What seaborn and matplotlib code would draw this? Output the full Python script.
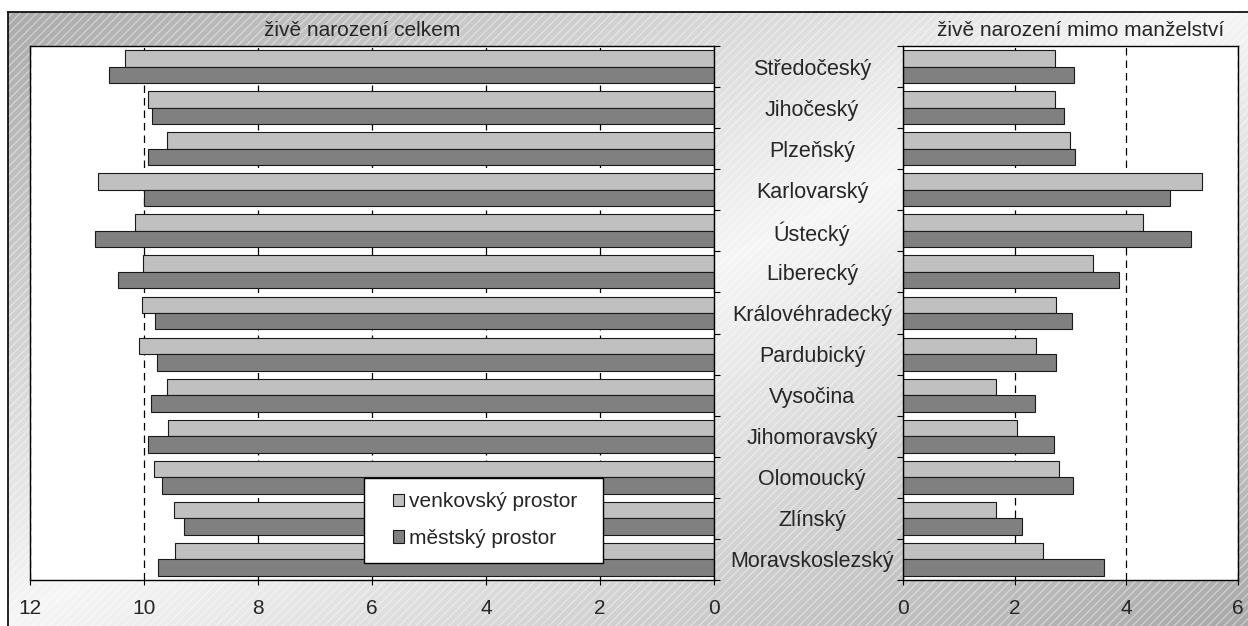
import numpy as np
import pandas as pd
import seaborn as sns
import matplotlib
matplotlib.use('Agg')
import matplotlib.pyplot as plt
from matplotlib.patches import Patch, Rectangle

# Data
kraje = ['Středočeský', 'Jihočeský', 'Plzeňský', 'Karlovarský', 'Ústecký',
         'Liberecký', 'Královéhradecký', 'Pardubický', 'Vysočina',
         'Jihomoravský', 'Olomoucký', 'Zlínský', 'Moravskoslezský']
venkov_celkem = [10.33, 9.93, 9.60, 10.81, 10.16, 10.02, 10.04, 10.09, 9.60, 9.58, 9.82, 9.47, 9.46]
mesto_celkem = [10.61, 9.86, 9.93, 10.00, 10.86, 10.46, 9.81, 9.77, 9.88, 9.93, 9.68, 9.30, 9.75]
venkov_mimo = [2.73, 2.72, 2.99, 5.36, 4.30, 3.40, 2.74, 2.38, 1.67, 2.04, 2.79, 1.67, 2.51]
mesto_mimo = [3.07, 2.89, 3.08, 4.78, 5.16, 3.86, 3.02, 2.74, 2.36, 2.70, 3.05, 2.14, 3.60]
prostory = ['venkovský prostor', 'městský prostor']
barvy = ['#c0c0c0', '#808080']

sns.set_theme(style='white')
plt.rcParams['font.family'] = ['Liberation Sans', 'DejaVu Sans']

W, H = 1248, 626
fig = plt.figure(figsize=(W / 100, H / 100), dpi=100)
fig.patch.set_facecolor('white')

# background: diagonal grey gradient with fine white hatching
bg = fig.add_axes([8 / W, 0, 1 - 8 / W, 1 - 12 / H], zorder=-5)
X, Y = np.meshgrid(np.linspace(8, W, 400) / W, np.linspace(12, H, 200) / H)
t = (X + Y) / 2
shade = 245 - 77 * np.abs(2 * t - 1)
bg.imshow(shade, cmap='gray', vmin=0, vmax=255, extent=[0, 1, 0, 1],
          aspect='auto', origin='upper')
bg.add_patch(Rectangle((0, 0), 1, 1, transform=bg.transAxes, facecolor='none',
                       edgecolor=(1, 1, 1, 0.4), hatch='////', lw=0))
bg.set_xlim(0, 1)
bg.set_ylim(0, 1)
bg.set_xticks([])
bg.set_yticks([])
for s in ['right', 'bottom']:
    bg.spines[s].set_visible(False)
for s in ['left', 'top']:
    bg.spines[s].set_color('black')
    bg.spines[s].set_linewidth(1.2)


def long_df(venkov, mesto):
    return pd.DataFrame({
        'kraj': kraje * 2,
        'hodnota': venkov + mesto,
        'prostor': [prostory[0]] * len(kraje) + [prostory[1]] * len(kraje),
    })


def style(ax, xmax):
    ax.set_facecolor('white')
    ax.set_axisbelow(True)
    ax.grid(axis='x', color='black', lw=0.9, linestyle=(0, (6, 4)))
    ax.grid(axis='y', visible=False)
    ax.set_xticks(range(0, xmax + 1, 2))
    ax.set_ylim(12.5, -0.5)
    ax.set_xlabel('')
    ax.set_ylabel('')
    ax.tick_params(axis='x', which='major', direction='out', length=3.6,
                   width=0.8, color='black', labelsize=15, pad=10, bottom=True)
    for s in ax.spines.values():
        s.set_color('black')
        s.set_linewidth(1)


axL = fig.add_axes([30 / W, 1 - 580 / H, 684 / W, 534 / H])
axR = fig.add_axes([903 / W, 1 - 580 / H, 335 / W, 534 / H])

sns.barplot(data=long_df(venkov_celkem, mesto_celkem), x='hodnota', y='kraj',
            hue='prostor', hue_order=prostory, palette=barvy, orient='h',
            saturation=1, width=0.8, edgecolor='#1a1a1a', linewidth=0.8,
            legend=False, ax=axL)
sns.barplot(data=long_df(venkov_mimo, mesto_mimo), x='hodnota', y='kraj',
            hue='prostor', hue_order=prostory, palette=barvy, orient='h',
            saturation=1, width=0.8, edgecolor='#1a1a1a', linewidth=0.8,
            legend=False, ax=axR)

style(axL, 12)
axL.set_xlim(12, 0)
axL.set_yticks([])
axL.set_yticks(np.arange(-0.5, 13), minor=True)
axL.tick_params(axis='y', which='minor', left=False, right=True,
                direction='out', length=4.3, width=0.8, color='black')
axL.set_title('živě narození celkem', fontsize=15, pad=7, x=0.485)

style(axR, 6)
axR.set_xlim(0, 6)
axR.set_yticks(range(len(kraje)))
axR.set_yticklabels(kraje, ha='center', fontsize=15.5)
axR.tick_params(axis='y', which='major', length=0, pad=65.5)
axR.set_yticks(np.arange(-0.5, 13), minor=True)
axR.tick_params(axis='y', which='minor', left=True, right=False,
                direction='out', length=4.3, width=0.8, color='black')
axR.set_title('živě narození mimo manželství', fontsize=15, pad=7, x=0.531)

# legend box inside the left panel
fig.add_artist(Rectangle((364 / W, 1 - 563 / H), (603 - 364) / W, (563 - 478) / H,
                         transform=fig.transFigure, facecolor='white',
                         edgecolor='black', lw=1, zorder=3))
handles = [Patch(facecolor=c, edgecolor='#1a1a1a', lw=0.8) for c in barvy]
fig.legend(handles, prostory, loc='center', bbox_to_anchor=(485 / W, 1 - 520 / H),
           frameon=False, fontsize=15, handlelength=0.55, handleheight=0.55,
           handletextpad=0.25, labelspacing=0.85)

fig.savefig('out.png', dpi=100)
